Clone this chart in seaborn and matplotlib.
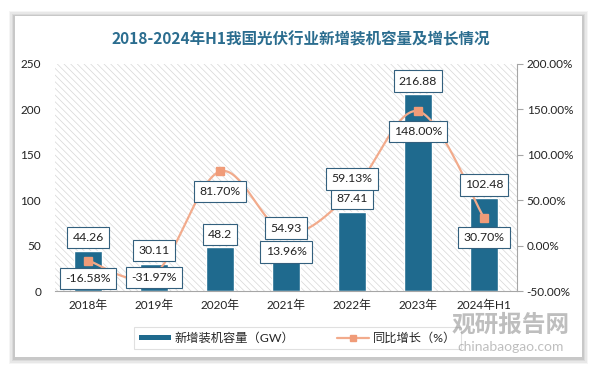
import matplotlib

matplotlib.use("Agg")
import matplotlib.pyplot as plt
import numpy as np
import seaborn as sns
from matplotlib.lines import Line2D
from matplotlib.patches import Patch, Rectangle
from matplotlib.ticker import FuncFormatter

# 数据
years = ["2018年", "2019年", "2020年", "2021年", "2022年", "2023年", "2024年H1"]
capacity = [44.26, 30.11, 48.2, 54.93, 87.41, 216.88, 102.48]
growth = [-16.58, -31.97, 81.70, 13.96, 59.13, 148.00, 30.70]

# 标签偏移（像素），正值在上方
growth_offsets = [-18, -3, -20, -19, 13, -20, -20]

BAR_COLOR = "#1f6a8e"
LINE_COLOR = "#f2ab8c"
TITLE_COLOR = "#2b6d8f"
FONT = ["Lato", "Noto Sans CJK SC", "DejaVu Sans"]

sns.set_style("white")
plt.rcParams["font.family"] = FONT
plt.rcParams["hatch.linewidth"] = 0.5


def smooth_curve(xs, ys, n=40):
    # Catmull-Rom, как сглаженная линия в Excel
    xs = np.asarray(xs, dtype=float)
    ys = np.asarray(ys, dtype=float)
    px = np.concatenate([[xs[0]], xs, [xs[-1]]])
    py = np.concatenate([[ys[0]], ys, [ys[-1]]])
    out_x, out_y = [], []
    t = np.linspace(0, 1, n)
    for i in range(1, len(px) - 2):
        for p, out in ((px, out_x), (py, out_y)):
            p0, p1, p2, p3 = p[i - 1], p[i], p[i + 1], p[i + 2]
            seg = 0.5 * (
                2 * p1
                + (-p0 + p2) * t
                + (2 * p0 - 5 * p1 + 4 * p2 - p3) * t**2
                + (-p0 + 3 * p1 - 3 * p2 + p3) * t**3
            )
            out.extend(seg)
    return np.array(out_x), np.array(out_y)


fig = plt.figure(figsize=(5.95, 3.71), dpi=100)
fig.patch.set_facecolor("white")

# карточка с тенью
card = (15 / 595, 14 / 371, 567 / 595, 341 / 371)
for i, a in enumerate([0.04, 0.05, 0.06, 0.08]):
    d = (4 - i) * 1.6
    fig.patches.append(
        Rectangle(
            (card[0] - d / 595, card[1] - (d + 1) / 371),
            card[2] + 2 * d / 595,
            card[3] + 2 * d / 371,
            transform=fig.transFigure,
            facecolor="black",
            alpha=a,
            edgecolor="none",
            zorder=-3,
        )
    )
fig.patches.append(
    Rectangle(
        card[:2],
        card[2],
        card[3],
        transform=fig.transFigure,
        facecolor="white",
        edgecolor="none",
        zorder=-2,
    )
)

ax = fig.add_axes([55 / 595, 80 / 371, 462 / 595, 227 / 371])
ax.patch.set_alpha(0)
ax.add_patch(
    Rectangle(
        (0, 0),
        1,
        1,
        transform=ax.transAxes,
        facecolor="white",
        edgecolor="#d6d6d6",
        hatch="\\\\\\\\\\",
        linewidth=0,
        zorder=0,
    )
)

sns.barplot(x=years, y=capacity, color=BAR_COLOR, width=0.41, saturation=1, ax=ax, zorder=2)
ax.set_ylim(0, 250)
ax.set_xlim(-0.5, len(years) - 0.5)
ax.set_yticks(range(0, 251, 50))
for s in ["top", "right", "left"]:
    ax.spines[s].set_visible(False)
ax.spines["bottom"].set_color("#a6a6a6")
ax.tick_params(axis="both", length=0, labelsize=8.5, colors="#222222", pad=6)
ax.tick_params(axis="y", pad=10)

ax2 = ax.twinx()
sx, sy = smooth_curve(range(len(years)), growth)
ax2.plot(sx, sy, color=LINE_COLOR, lw=1.6, zorder=3)
ax2.plot(range(len(years)), growth, ls="none", marker="s", ms=6, color="#f09b78", zorder=4)
ax2.set_ylim(-50, 200)
ax2.set_yticks(range(-50, 201, 50))
ax2.yaxis.set_major_formatter(FuncFormatter(lambda v, p: f"{v:.2f}%"))
for s in ["top", "left", "bottom"]:
    ax2.spines[s].set_visible(False)
ax2.spines["right"].set_color("#a6a6a6")
ax2.tick_params(axis="y", length=4, color="#a6a6a6", labelsize=8.5, labelcolor="#222222", pad=3)

box = dict(boxstyle="square,pad=0.42", fc="white", ec="#33607e", lw=0.8)
for i, v in enumerate(capacity):
    ax2.annotate(
        f"{v:g}",
        xy=(i, v),
        xycoords=ax.transData,
        xytext=(0, 13 * 0.72),
        textcoords="offset points",
        ha="center",
        va="center",
        fontsize=8.8,
        color="#222222",
        bbox=box,
        zorder=6,
    )
for i, v in enumerate(growth):
    ax2.annotate(
        f"{v:.2f}%",
        xy=(i, v),
        xytext=(0, growth_offsets[i] * 0.72),
        textcoords="offset points",
        ha="center",
        va="center",
        fontsize=8.8,
        color="#222222",
        bbox=box,
        zorder=6,
    )

fig.text(
    0.505,
    0.895,
    "2018-2024年H1我国光伏行业新增装机容量及增长情况",
    ha="center",
    va="center",
    fontsize=11.2,
    fontweight="bold",
    color=TITLE_COLOR,
    family=["Noto Sans CJK SC", "DejaVu Sans"],
)

handles = [
    Patch(facecolor=BAR_COLOR, edgecolor="none"),
    Line2D([0], [0], color=LINE_COLOR, lw=1.6, marker="s", ms=5, markerfacecolor="#f09b78", markeredgecolor="#f09b78"),
]
leg = fig.legend(
    handles,
    ["新增装机容量（GW）", "同比增长（%）"],
    loc="center",
    bbox_to_anchor=(0.5, 0.089),
    ncol=2,
    fontsize=8.8,
    frameon=True,
    fancybox=False,
    edgecolor="#d9d9d9",
    handlelength=2.6,
    handleheight=0.35,
    handletextpad=0.3,
    columnspacing=3.5,
    borderpad=0.45,
    borderaxespad=0,
)
leg.get_frame().set_linewidth(0.8)

# водяной знак
fig.text(0.858, 0.125, "观研报告网", ha="center", va="center", fontsize=17, fontweight="bold",
         color="#8a8a8a", alpha=0.55, family=["Noto Sans CJK SC"], zorder=10)
fig.text(0.858, 0.066, "chinabaogao.com", ha="center", va="center", fontsize=10,
         color="#8a8a8a", alpha=0.55, zorder=10)

fig.savefig("out.png", dpi=100)
